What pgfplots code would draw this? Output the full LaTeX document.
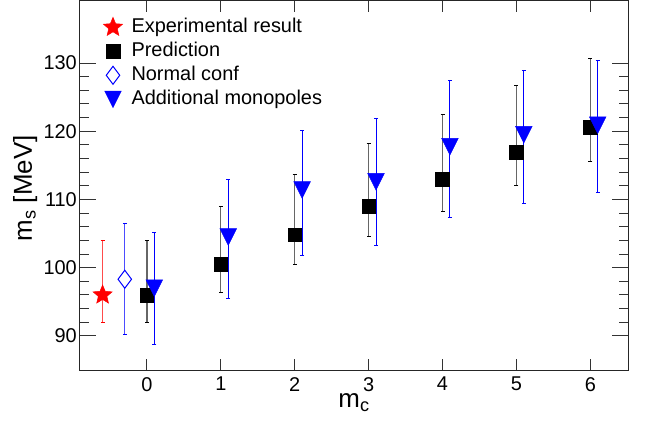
\documentclass[border=0pt]{standalone}
\usepackage{fontspec}
\setmainfont{Liberation Sans}
\usepackage{pgfplots}
\pgfplotsset{compat=1.18}
\usetikzlibrary{plotmarks}

\pgfdeclareplotmark{fstar}{%
 \pgfpathmoveto{\pgfpointpolar{90}{\pgfplotmarksize}}%
 \pgfpathlineto{\pgfpointpolar{126}{0.45\pgfplotmarksize}}%
 \pgfpathlineto{\pgfpointpolar{162}{\pgfplotmarksize}}%
 \pgfpathlineto{\pgfpointpolar{198}{0.45\pgfplotmarksize}}%
 \pgfpathlineto{\pgfpointpolar{234}{\pgfplotmarksize}}%
 \pgfpathlineto{\pgfpointpolar{270}{0.45\pgfplotmarksize}}%
 \pgfpathlineto{\pgfpointpolar{306}{\pgfplotmarksize}}%
 \pgfpathlineto{\pgfpointpolar{342}{0.45\pgfplotmarksize}}%
 \pgfpathlineto{\pgfpointpolar{18}{\pgfplotmarksize}}%
 \pgfpathlineto{\pgfpointpolar{54}{0.45\pgfplotmarksize}}%
 \pgfpathclose\pgfusepathqfillstroke}
\pgfdeclareplotmark{tridown}{%
 \pgfpathmoveto{\pgfqpoint{-\pgfplotmarksize}{\pgfplotmarksize}}%
 \pgfpathlineto{\pgfqpoint{\pgfplotmarksize}{\pgfplotmarksize}}%
 \pgfpathlineto{\pgfqpoint{0pt}{-\pgfplotmarksize}}%
 \pgfpathclose\pgfusepathqfillstroke}

\pgfplotstableread{
x y ep em
-0.6 96 8 4
}\expdata
\pgfplotstableread{
x y ep em
-0.3 98.3 8.2 8.1
}\normdata
\pgfplotstableread{
x y ep em
0 96 8 4
1 100.5 8.5 4.2
2 104.85 8.85 4.35
3 109.0 9.15 4.5
4 113.0 9.5 4.7
5 116.9 9.75 4.9
6 120.6 10.1 5.05
}\preddata
\pgfplotstableread{
x y ep em
0.1 97.0 8.15 8.2
1.1 104.5 8.5 9.0
2.1 111.4 8.7 9.6
3.1 112.6 9.2 9.3
4.1 117.75 9.65 10.45
5.1 119.5 9.4 10.05
6.1 120.9 9.5 9.9
}\adddata

\begin{document}
\begin{tikzpicture}
\path[use as bounding box] (-80bp,-54bp) rectangle (577bp,370bp);
\begin{axis}[
  at={(0,0)}, anchor=south west, scale only axis,
  width=548bp, height=369bp,
  xmin=-0.906, xmax=6.51, ymin=85, ymax=139.1,
  xtick={0,...,6}, ytick={90,100,...,130}, minor y tick num=4,
  tick pos=both, tick align=inside,
  major tick length=16bp, minor tick length=9bp,
  xtick style={/pgfplots/major tick length=11bp},
  every tick/.style={line width=1bp, black!80},
  axis line style={line width=1bp, black!85},
  font=\fontsize{20}{24}\selectfont,
  /pgf/number format/assume math mode=true,
  yticklabel style={inner sep=0pt, xshift=-3bp},
  xticklabel style={inner sep=0pt, yshift=-7bp},
  label style={font=\fontsize{26}{30}\selectfont},
  ylabel={m\textsubscript{s} [MeV]},
  ylabel style={at={(axis description cs:-0.1,0.492)}, anchor=center},
  xlabel={m\textsubscript{c}},
  xlabel style={at={(axis description cs:0.5,-0.102)}, anchor=base},
  legend style={draw=none, fill=none, at={(axis description cs:0.0425,0.959)},
    anchor=north west, font=\fontsize{20}{24}\selectfont, inner sep=0pt,
    row sep=2bp, column sep=8bp,
    nodes={inner sep=1bp, text height=15bp, text depth=5bp}},
  legend cell align=left,
  legend image code/.code={\draw[mark repeat=2,mark phase=2,#1] plot coordinates {(0bp,0bp)(9bp,0bp)(18bp,0bp)};},
]
\addplot[only marks, mark=fstar, mark size=10bp, draw=red, fill=red, line width=0.5bp,
  error bars/.cd, y dir=both, y explicit, error mark=-,
  error bar style={line width=1bp, color=red!70},
  error mark options={rotate=90, mark size=2bp, line width=1bp, color=red}]
  table[x=x, y=y, y error plus=ep, y error minus=em] {\expdata};
\addlegendentry{Experimental result}
\addplot[only marks, mark=square*, mark size=6.8bp, draw=black, fill=black, line width=0.5bp,
  error bars/.cd, y dir=both, y explicit, error mark=-,
  error bar style={line width=1.2bp, color=black!60},
  error mark options={rotate=90, mark size=2bp, line width=1bp, color=black}]
  table[x=x, y=y, y error plus=ep, y error minus=em] {\preddata};
\addlegendentry{Prediction}
\addplot[only marks, mark=diamond*, mark size=9bp, draw=blue, fill=white, line width=1bp,
  error bars/.cd, y dir=both, y explicit, error mark=-,
  error bar style={line width=1bp, color=blue!70},
  error mark options={rotate=90, mark size=2bp, line width=1bp, color=blue}]
  table[x=x, y=y, y error plus=ep, y error minus=em] {\normdata};
\addlegendentry{Normal conf}
\addplot[only marks, mark=tridown, mark size=8.3bp, draw=blue, fill=blue, line width=0.5bp,
  error bars/.cd, y dir=both, y explicit, error mark=-,
  error bar style={line width=1bp, color=blue},
  error mark options={rotate=90, mark size=2bp, line width=1bp, color=blue}]
  table[x=x, y=y, y error plus=ep, y error minus=em] {\adddata};
\addlegendentry{Additional monopoles}
\end{axis}
\end{tikzpicture}
\end{document}
